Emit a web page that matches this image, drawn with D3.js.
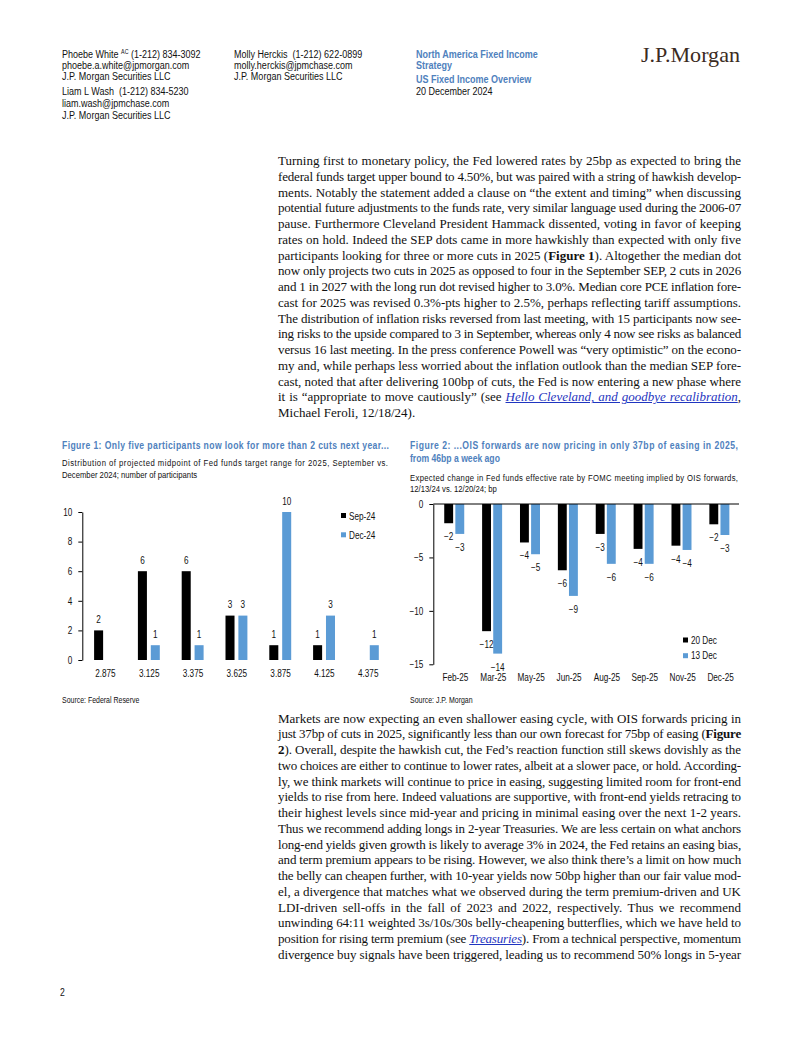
<!DOCTYPE html>
<html>
<head>
  <meta charset="utf-8">
  <title>US Fixed Income Overview</title>
  <script src="https://cdn.jsdelivr.net/npm/d3@7"></script>
  <style>
    body {margin: 0; background: #fff;}
    #page {position: relative; width: 802px; height: 1037px; overflow: hidden; background: #fff;}
    #page svg {position: absolute; left: 0; top: 0;}
    .ln {position: absolute; white-space: nowrap; font-family: "Liberation Serif", "Times New Roman", serif;
         font-size: 13px; line-height: 15.8px; color: #111;}
    .ln a {color: #1f35c0; font-style: italic; text-decoration: underline;}
    .pre {white-space: pre;}
  </style>
</head>
<body>
  <div id="page"></div>

  <script>
    // ---- chart data ----
    var fig1Categories = ["2.875", "3.125", "3.375", "3.625", "3.875", "4.125", "4.375"];
    var fig1Series = ["Sep-24", "Dec-24"];
    var fig1Sep24 = [2, 6, 6, 3, 1, 1, 0];
    var fig1Dec24 = [0, 1, 1, 3, 10, 3, 1];
    var fig1Ticks = [0, 2, 4, 6, 8, 10];

    var fig2Categories = ["Feb-25", "Mar-25", "May-25", "Jun-25", "Aug-25", "Sep-25", "Nov-25", "Dec-25"];
    var fig2Series = ["20 Dec", "13 Dec"];
    var fig2Dec20 = [-1.8, -11.9, -3.6, -6.2, -2.8, -4.2, -3.9, -1.9];
    var fig2Dec13 = [-2.8, -14.0, -4.7, -8.6, -5.6, -5.6, -4.3, -2.9];
    var fig2Ticks = [0, -5, -10, -15];

    // ---- body text, line by line as set in the page ----
    var para1 = [
      "Turning first to monetary policy, the Fed lowered rates by 25bp as expected to bring the",
      "federal funds target upper bound to 4.50%, but was paired with a string of hawkish develop-",
      "ments. Notably the statement added a clause on “the extent and timing” when discussing",
      "potential future adjustments to the funds rate, very similar language used during the 2006-07",
      "pause. Furthermore Cleveland President Hammack dissented, voting in favor of keeping",
      "rates on hold. Indeed the SEP dots came in more hawkishly than expected with only five",
      "participants looking for three or more cuts in 2025 (<b>Figure 1</b>). Altogether the median dot",
      "now only projects two cuts in 2025 as opposed to four in the September SEP, 2 cuts in 2026",
      "and 1 in 2027 with the long run dot revised higher to 3.0%. Median core PCE inflation fore-",
      "cast for 2025 was revised 0.3%-pts higher to 2.5%, perhaps reflecting tariff assumptions.",
      "The distribution of inflation risks reversed from last meeting, with 15 participants now see-",
      "ing risks to the upside compared to 3 in September, whereas only 4 now see risks as balanced",
      "versus 16 last meeting. In the press conference Powell was “very optimistic” on the econo-",
      "my and, while perhaps less worried about the inflation outlook than the median SEP fore-",
      "cast, noted that after delivering 100bp of cuts, the Fed is now entering a new phase where",
      "it is “appropriate to move cautiously” (see <a>Hello Cleveland, and goodbye recalibration</a>,",
      "Michael Feroli, 12/18/24)."
    ];
    var para2 = [
      "Markets are now expecting an even shallower easing cycle, with OIS forwards pricing in",
      "just 37bp of cuts in 2025, significantly less than our own forecast for 75bp of easing (<b>Figure</b>",
      "<b>2</b>). Overall, despite the hawkish cut, the Fed’s reaction function still skews dovishly as the",
      "two choices are either to continue to lower rates, albeit at a slower pace, or hold. According-",
      "ly, we think markets will continue to price in easing, suggesting limited room for front-end",
      "yields to rise from here. Indeed valuations are supportive, with front-end yields retracing to",
      "their highest levels since mid-year and pricing in minimal easing over the next 1-2 years.",
      "Thus we recommend adding longs in 2-year Treasuries. We are less certain on what anchors",
      "long-end yields given growth is likely to average 3% in 2024, the Fed retains an easing bias,",
      "and term premium appears to be rising. However, we also think there’s a limit on how much",
      "the belly can cheapen further, with 10-year yields now 50bp higher than our fair value mod-",
      "el, a divergence that matches what we observed during the term premium-driven and UK",
      "LDI-driven sell-offs in the fall of 2023 and 2022, respectively. Thus we recommend",
      "unwinding 64:11 weighted 3s/10s/30s belly-cheapening butterflies, which we have held to",
      "position for rising term premium (see <a>Treasuries</a>). From a technical perspective, momentum",
      "divergence buy signals have been triggered, leading us to recommend 50% longs in 5-year"
    ];

    var BLACK = "#000";
    var BLUE = "#5b9bd5";
    var TITLE = "#4f81bd";

    // narrow sans like Arial Narrow; fall back to squeezing Liberation Sans
    function hasFont(f) {
      var c = document.createElement("canvas").getContext("2d");
      c.font = "20px monospace";
      var a = c.measureText("abcdefghijklmnopWM").width;
      c.font = '20px "' + f + '", monospace';
      return c.measureText("abcdefghijklmnopWM").width !== a;
    }
    var SANS, SX;
    if (hasFont("Liberation Sans Narrow")) { SANS = '"Liberation Sans Narrow"'; SX = 1; }
    else { SANS = '"Liberation Sans", Arial, sans-serif'; SX = 0.82; }

    var page = d3.select("#page");
    var svg = page.append("svg").attr("width", 802).attr("height", 1037);

    function txt(g, x, y, s, o) {
      o = o || {};
      var t = g.append("text")
        .attr("class", "pre")
        .attr("transform", "translate(" + x + "," + y + ") scale(" + SX + ",1)")
        .attr("font-family", SANS)
        .attr("font-size", o.size || 10)
        .attr("font-weight", o.bold ? "bold" : null)
        .attr("fill", o.fill || "#111")
        .attr("text-anchor", o.anchor || "start")
        .text(s);
      if (o.len) t.attr("textLength", o.len / SX).attr("lengthAdjust", "spacing");
      return t;
    }

    // ---- header ----
    var hs = 11;
    var h1 = txt(svg, 62, 57.5, "Phoebe White ", {size: hs});
    h1.append("tspan").attr("font-size", 6.5).attr("dy", -3.8).text("AC");
    h1.append("tspan").attr("dy", 3.8).text(" (1-212) 834-3092");
    txt(svg, 62, 69, "phoebe.a.white@jpmorgan.com", {size: hs});
    txt(svg, 62, 80, "J.P. Morgan Securities LLC", {size: hs});
    txt(svg, 62, 95, "Liam L Wash  (1-212) 834-5230", {size: hs});
    txt(svg, 62, 107, "liam.wash@jpmchase.com", {size: hs});
    txt(svg, 62, 118.5, "J.P. Morgan Securities LLC", {size: hs});

    txt(svg, 234, 57.5, "Molly Herckis  (1-212) 622-0899", {size: hs});
    txt(svg, 234, 69, "molly.herckis@jpmchase.com", {size: hs});
    txt(svg, 234, 80, "J.P. Morgan Securities LLC", {size: hs});

    txt(svg, 416, 57.5, "North America Fixed Income", {size: hs, bold: true, fill: TITLE});
    txt(svg, 416, 69, "Strategy", {size: hs, bold: true, fill: TITLE});
    txt(svg, 416, 83, "US Fixed Income Overview", {size: hs, bold: true, fill: TITLE});
    txt(svg, 416, 95, "20 December 2024", {size: hs});

    svg.append("text")
      .attr("x", 641).attr("y", 61.5)
      .attr("font-family", '"Liberation Serif", "Times New Roman", serif')
      .attr("font-size", 21)
      .attr("fill", "#3b2b22")
      .attr("textLength", 99).attr("lengthAdjust", "spacingAndGlyphs")
      .text("J.P.Morgan");

    txt(svg, 60, 996, "2", {size: 10.5});

    // ---- body paragraphs (justified per line) ----
    var LH = 15.75;
    function paragraph(lines, left, top, right, lastLeft) {
      var W = right - left;
      lines.forEach(function(ln, i) {
        var d = page.append("div").attr("class", "ln")
          .style("left", left + "px")
          .style("top", (top + i * LH) + "px")
          .html(ln);
        var node = d.node();
        var nat = node.getBoundingClientRect().width;
        if (lastLeft && i === lines.length - 1) return;
        var s = node.textContent;
        var spaces = s.split(" ").length - 1;
        if (nat <= W) {
          d.style("word-spacing", ((W - nat) / spaces) + "px");
        } else {
          d.style("letter-spacing", ((W - nat) / s.length) + "px");
        }
      });
    }
    paragraph(para1, 278, 153, 741, true);
    paragraph(para2, 278, 710.7, 741, false);

    // ---- Figure 1 ----
    var g1 = svg.append("g");
    txt(g1, 62, 449, "Figure 1: Only five participants now look for more than 2 cuts next year...",
      {size: 10.5, bold: true, fill: TITLE, len: 327});
    txt(g1, 62, 465.6, "Distribution of projected midpoint of Fed funds target range for 2025, September vs.",
      {size: 9.4, len: 326});
    txt(g1, 62, 477.6, "December 2024; number of participants", {size: 9.4});
    txt(g1, 62, 703, "Source: Federal Reserve", {size: 8.5});

    var x1 = d3.scalePoint().domain(fig1Categories).range([83, 389.6]).padding(0.5);
    var s1 = d3.scaleBand().domain(fig1Series).range([-10.8, 11.1]).paddingInner(0.3);
    var y1 = d3.scaleLinear().domain([0, 10]).range([660, 512]);

    var fig1Rows = fig1Categories.map(function(c, i) {
      return [{cat: c, key: "Sep-24", v: fig1Sep24[i]}, {cat: c, key: "Dec-24", v: fig1Dec24[i]}];
    });
    var fig1Bars = [].concat.apply([], fig1Rows);

    g1.selectAll("rect.bar").data(fig1Bars).enter().append("rect")
      .attr("class", "bar")
      .attr("x", function(d) { return x1(d.cat) + s1(d.key); })
      .attr("width", s1.bandwidth())
      .attr("y", function(d) { return y1(d.v); })
      .attr("height", function(d) { return y1(0) - y1(d.v); })
      .attr("fill", function(d) { return d.key === "Sep-24" ? BLACK : BLUE; });

    fig1Bars.filter(function(d) { return d.v > 0; }).forEach(function(d) {
      txt(g1, x1(d.cat) + s1(d.key) + s1.bandwidth() / 2, y1(d.v) - 7.5, String(d.v),
        {size: 10, anchor: "middle"});
    });

    var ax1 = g1.append("g").attr("transform", "translate(82.3,0)")
      .call(d3.axisLeft(y1).tickValues(fig1Ticks).tickSize(4).tickSizeOuter(0).tickPadding(6));
    var bx1 = g1.append("g").attr("transform", "translate(0,660)")
      .call(d3.axisBottom(x1).tickSize(0).tickPadding(9.5));
    bx1.select(".domain").remove();

    // legend
    fig1Series.forEach(function(k, i) {
      g1.append("rect").attr("x", 341).attr("y", 513 + i * 19.3).attr("width", 5).attr("height", 5)
        .attr("fill", i === 0 ? BLACK : BLUE);
      txt(g1, 349, 519.5 + i * 19.3, k, {size: 10});
    });

    // ---- Figure 2 ----
    var g2 = svg.append("g");
    txt(g2, 410, 449, "Figure 2: ...OIS forwards are now pricing in only 37bp of easing in 2025,",
      {size: 10.5, bold: true, fill: TITLE, len: 328});
    txt(g2, 410, 462.3, "from 46bp a week ago", {size: 10.5, bold: true, fill: TITLE});
    txt(g2, 410, 481, "Expected change in Fed funds effective rate by FOMC meeting implied by OIS forwards,",
      {size: 9.4, len: 328});
    txt(g2, 410, 492, "12/13/24 vs. 12/20/24; bp", {size: 9.4});
    txt(g2, 410, 703, "Source: J.P. Morgan", {size: 8.5});

    var x2 = d3.scalePoint().domain(fig2Categories).range([436, 739]).padding(0.5);
    var s2 = d3.scaleBand().domain(fig2Series).range([-10.7, 9.3]).paddingInner(0.2);
    var y2 = d3.scaleLinear().domain([-15, 0]).range([664.3, 504]);

    var fig2Rows = fig2Categories.map(function(c, i) {
      return [{cat: c, key: "20 Dec", v: fig2Dec20[i]}, {cat: c, key: "13 Dec", v: fig2Dec13[i]}];
    });
    var fig2Bars = [].concat.apply([], fig2Rows);

    g2.selectAll("rect.bar").data(fig2Bars).enter().append("rect")
      .attr("class", "bar")
      .attr("x", function(d) { return x2(d.cat) + s2(d.key); })
      .attr("width", s2.bandwidth())
      .attr("y", y2(0))
      .attr("height", function(d) { return y2(d.v) - y2(0); })
      .attr("fill", function(d) { return d.key === "20 Dec" ? BLACK : BLUE; });

    var fmt = d3.format(".0f");
    fig2Bars.forEach(function(d) {
      txt(g2, x2(d.cat) + s2(d.key) + s2.bandwidth() / 2, y2(d.v) + 17, fmt(d.v),
        {size: 10, anchor: "middle"});
    });

    var ax2 = g2.append("g").attr("transform", "translate(433.3,0)")
      .call(d3.axisLeft(y2).tickValues(fig2Ticks).tickSize(4).tickSizeOuter(0).tickPadding(6));
    g2.append("line").attr("x1", 433.3).attr("x2", 739).attr("y1", y2(0)).attr("y2", y2(0))
      .attr("stroke", "#000").attr("stroke-width", 1);
    var bx2 = g2.append("g").attr("transform", "translate(0,664.3)")
      .call(d3.axisBottom(x2).tickSize(0).tickPadding(9.5));
    bx2.select(".domain").remove();

    fig2Series.forEach(function(k, i) {
      g2.append("rect").attr("x", 683).attr("y", 637.5 + i * 15.7).attr("width", 5).attr("height", 5)
        .attr("fill", i === 0 ? BLACK : BLUE);
      txt(g2, 691, 643.5 + i * 15.7, k, {size: 10});
    });

    // axis styling
    [ax1, ax2, bx1, bx2].forEach(function(a) {
      a.attr("font-family", SANS).attr("font-size", 10);
      a.selectAll("path, line").attr("stroke", "#000");
      a.selectAll("text").attr("fill", "#111").each(function() {
        var t = d3.select(this);
        t.attr("x", (+t.attr("x") || 0) / SX).attr("transform", "scale(" + SX + ",1)");
      });
    });
  </script>
</body>
</html>
